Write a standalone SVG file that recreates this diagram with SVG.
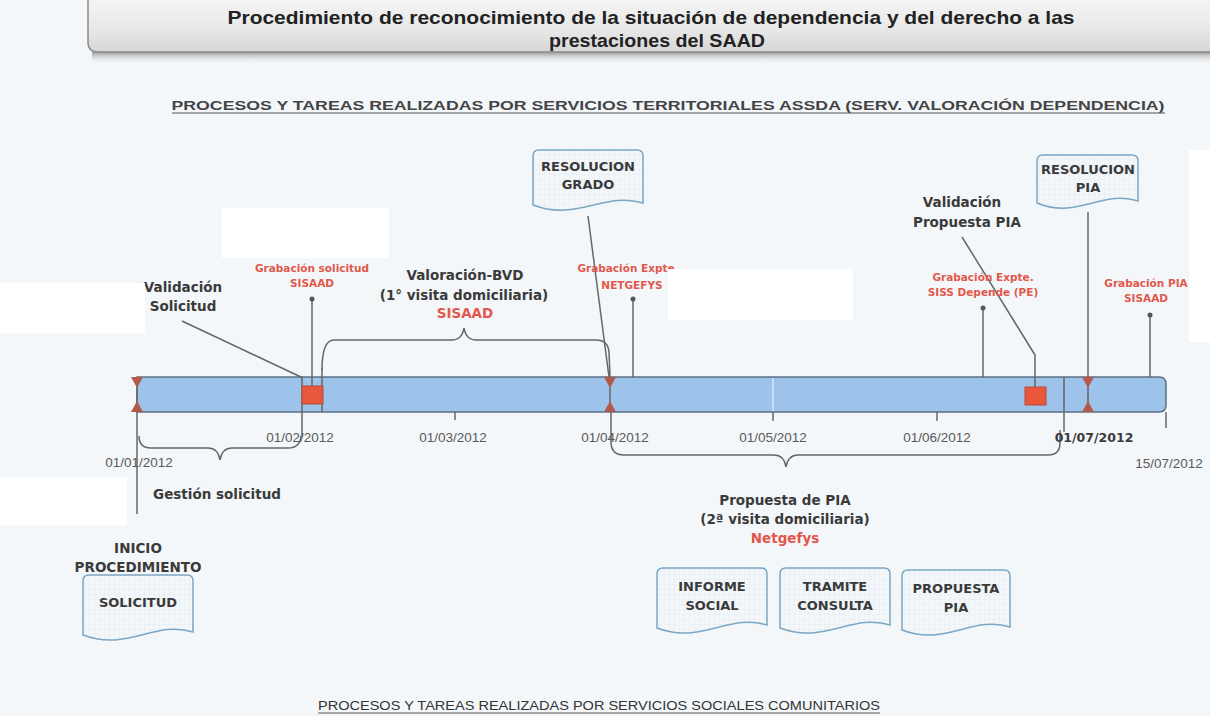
<svg xmlns="http://www.w3.org/2000/svg" width="1210" height="716" viewBox="0 0 1210 716">
<style>
.lbl{font-family:"DejaVu Sans",Verdana,sans-serif;font-weight:bold;font-size:13.5px;fill:#3a3a3a;text-anchor:middle}
.red{font-family:"DejaVu Sans",Verdana,sans-serif;font-weight:bold;font-size:10.5px;fill:#e2574c;text-anchor:middle}
.date{font-family:"Liberation Sans",Arial,sans-serif;font-size:13.5px;fill:#5a5a5a;text-anchor:middle}
.doct{font-family:"DejaVu Sans",Verdana,sans-serif;font-weight:bold;font-size:13px;fill:#3a3a3a;text-anchor:middle}
.doc{fill:url(#grid);stroke:#7ba6c4;stroke-width:1.5}
.ln{stroke:#666;stroke-width:1.5;fill:none}
.tri{fill:#b05a4c}
.sq{fill:#e8573c;stroke:#b54a3a;stroke-width:1}
.pin{fill:#555}
.wh{fill:#ffffff}
</style>
<defs>
<pattern id="grid" width="5" height="5" patternUnits="userSpaceOnUse">
<rect width="5" height="5" fill="#f3f7fa"/>
<path d="M5 0V5M0 5H5" stroke="#dce6ee" stroke-width="0.6"/>
</pattern>
<linearGradient id="tg" x1="0" y1="0" x2="0" y2="1">
<stop offset="0" stop-color="#f6f6f6"/>
<stop offset="0.6" stop-color="#e8e8e8"/>
<stop offset="1" stop-color="#d6d6d6"/>
</linearGradient>
<linearGradient id="sh" x1="0" y1="0" x2="0" y2="1">
<stop offset="0" stop-color="#9a9a9a"/>
<stop offset="1" stop-color="#f4f7f9" stop-opacity="0"/>
</linearGradient>
</defs>
<rect width="1210" height="716" fill="#f4f7f9"/>
<g id="title">
<rect x="92" y="52" width="1118" height="12" fill="url(#sh)"/>
<path d="M88,-5 L88,42 Q88,52 98,52 L1215,52 L1215,-5 Z" fill="url(#tg)" stroke="#8a8a8a" stroke-width="1.5"/>
<text x="651" y="24" font-family="Liberation Sans,Arial,sans-serif" font-weight="bold" font-size="19" fill="#222" text-anchor="middle" textLength="847" lengthAdjust="spacingAndGlyphs">Procedimiento de reconocimiento de la situación de dependencia y del derecho a las</text>
<text x="657" y="47" font-family="Liberation Sans,Arial,sans-serif" font-weight="bold" font-size="19" fill="#222" text-anchor="middle" textLength="216" lengthAdjust="spacingAndGlyphs">prestaciones del SAAD</text>
</g>
<g id="subtitle-top">
<text x="668" y="110" font-family="Liberation Sans,Arial,sans-serif" font-weight="bold" font-size="13" fill="#444" text-anchor="middle" textLength="993" lengthAdjust="spacingAndGlyphs">PROCESOS Y TAREAS REALIZADAS POR SERVICIOS TERRITORIALES ASSDA (SERV. VALORACIÓN DEPENDENCIA)</text>
<line x1="172" y1="113" x2="1165" y2="113" stroke="#555" stroke-width="1"/>
</g>
<g id="subtitle-bottom">
<text x="599" y="710" font-family="Liberation Sans,Arial,sans-serif" font-size="13" fill="#333" text-anchor="middle" textLength="562" lengthAdjust="spacingAndGlyphs">PROCESOS Y TAREAS REALIZADAS POR SERVICIOS SOCIALES COMUNITARIOS</text>
<line x1="318" y1="713" x2="880" y2="713" stroke="#555" stroke-width="1"/>
</g>
<g id="timeline">
<path d="M137,377 L1159,377 Q1166,377 1166,384 L1166,405 Q1166,412 1159,412 L137,412 Z" fill="#9ec3ea" stroke="#5b6f86" stroke-width="1.5"/>
<line x1="773" y1="378" x2="773" y2="411" stroke="#d4e4f4" stroke-width="1.5"/>
</g>
<g id="connectors">
<line class="ln" x1="455" y1="412" x2="455" y2="420"/>
<line class="ln" x1="773" y1="412" x2="773" y2="421"/>
<line class="ln" x1="937" y1="412" x2="937" y2="421"/>
<line class="ln" x1="1166" y1="412" x2="1166" y2="428"/>
<line class="ln" x1="137" y1="377" x2="137" y2="514"/>
<line class="ln" x1="302" y1="377" x2="302" y2="437"/>
<line class="ln" x1="322" y1="368" x2="322" y2="412"/>
<line class="ln" x1="610" y1="377" x2="610" y2="412"/>
<line class="ln" x1="1064" y1="377" x2="1064" y2="432"/>
<path class="ln" d="M139,436 Q139,448 151,448 L208,448 Q218,448 220,460 Q222,448 232,448 L288,448 Q300,448 301,436"/>
<path class="ln" d="M322,370 Q322,340 334,340 L452,340 Q462,340 464,328 Q466,340 476,340 L596,340 Q608,340 609,352 L610,377"/>
<path class="ln" d="M611,412 L611,442 Q611,455 624,455 L774,455 Q784,455 786,467 Q788,455 798,455 L1048,455 Q1060,455 1060,443 L1060,430"/>
<line class="ln" x1="182" y1="321" x2="303" y2="378"/>
<line class="ln" x1="312" y1="299" x2="312" y2="386"/>
<circle class="pin" cx="312" cy="299" r="2.5"/>
<line class="ln" x1="588" y1="216" x2="609" y2="377"/>
<line class="ln" x1="633" y1="299" x2="633" y2="377"/>
<circle class="pin" cx="633" cy="299" r="2.5"/>
<line class="ln" x1="983" y1="308" x2="983" y2="377"/>
<circle class="pin" cx="983" cy="308" r="2.5"/>
<path class="ln" d="M962,237 L1035,355 L1035,387"/>
<line class="ln" x1="1088" y1="212" x2="1088" y2="377"/>
<line class="ln" x1="1088" y1="377" x2="1088" y2="412"/>
<line class="ln" x1="1150" y1="315" x2="1150" y2="377"/>
<circle class="pin" cx="1150" cy="315" r="2.5"/>
</g>
<g id="markers">
<polygon class="tri" points="131,377 143,377 137,388"/>
<polygon class="tri" points="131,412 143,412 137,401"/>
<polygon class="tri" points="604,377 616,377 610,388"/>
<polygon class="tri" points="604,412 616,412 610,401"/>
<polygon class="tri" points="1082,377 1094,377 1088,388"/>
<polygon class="tri" points="1082,412 1094,412 1088,401"/>
<rect class="sq" x="302" y="386" width="21" height="18"/>
<rect class="sq" x="1025" y="387" width="21" height="18"/>
</g>
<g id="dates">
<text class="date" x="300" y="442">01/02/2012</text>
<text class="date" x="453" y="442">01/03/2012</text>
<text class="date" x="615" y="442">01/04/2012</text>
<text class="date" x="773" y="442">01/05/2012</text>
<text class="date" x="937" y="442">01/06/2012</text>
<text x="1094" y="442" font-family="DejaVu Sans,Verdana,sans-serif" font-weight="bold" font-size="12.5" fill="#3a3a3a" text-anchor="middle">01/07/2012</text>
<text class="date" x="1169" y="468">15/07/2012</text>
<text class="date" x="139" y="467">01/01/2012</text>
</g>
<g id="labels">
<text class="lbl" x="183" y="292">Validación</text>
<text class="lbl" x="183" y="311">Solicitud</text>
<text class="red" x="312" y="272">Grabación solicitud</text>
<text class="red" x="312" y="287">SISAAD</text>
<text class="lbl" x="465" y="280">Valoración-BVD</text>
<text class="lbl" x="464" y="300">(1° visita domiciliaria)</text>
<text x="465" y="318" font-family="DejaVu Sans,Verdana,sans-serif" font-weight="bold" font-size="13.5" fill="#e2574c" text-anchor="middle">SISAAD</text>
<text class="red" x="628" y="272">Grabación Expte.</text>
<text class="red" x="632" y="289">NETGEFYS</text>
<text class="lbl" x="962" y="207">Validación</text>
<text class="lbl" x="967" y="227">Propuesta PIA</text>
<text class="red" x="983" y="281">Grabación Expte.</text>
<text class="red" x="983" y="296">SISS Depende (PE)</text>
<text class="red" x="1146" y="287">Grabación PIA</text>
<text class="red" x="1146" y="302">SISAAD</text>
<text class="lbl" x="217" y="499">Gestión solicitud</text>
<text class="lbl" x="785" y="505">Propuesta de PIA</text>
<text class="lbl" x="785" y="524">(2ª visita domiciliaria)</text>
<text x="785" y="543" font-family="DejaVu Sans,Verdana,sans-serif" font-weight="bold" font-size="13.5" fill="#e2574c" text-anchor="middle">Netgefys</text>
<text class="lbl" x="138" y="553">INICIO</text>
<text class="lbl" x="138" y="572">PROCEDIMIENTO</text>
</g>
<g id="redactions">
<rect class="wh" x="222" y="208" width="167" height="50"/>
<rect class="wh" x="0" y="283" width="145" height="50"/>
<rect class="wh" x="668" y="269" width="185" height="51"/>
<rect class="wh" x="1189" y="150" width="21" height="192"/>
<rect class="wh" x="0" y="477" width="127" height="48"/>
</g>
<g id="doc-resolucion-grado">
<path class="doc" d="M533,156 Q533,150 539,150 L637,150 Q643,150 643,156 L643,203 C605,191 577,222 533,205 Z"/>
<text class="doct" x="588" y="171">RESOLUCION</text>
<text class="doct" x="588" y="189">GRADO</text>
</g>
<g id="doc-resolucion-pia">
<path class="doc" d="M1037,161 Q1037,155 1043,155 L1132,155 Q1138,155 1138,161 L1138,201 C1103,189 1077,220 1037,203 Z"/>
<text class="doct" x="1088" y="174">RESOLUCION</text>
<text class="doct" x="1088" y="192">PIA</text>
</g>
<g id="doc-solicitud">
<path class="doc" d="M83,581 Q83,575 89,575 L187,575 Q193,575 193,581 L193,632 C155,620 127,652 83,635 Z"/>
<text class="doct" x="138" y="607">SOLICITUD</text>
</g>
<g id="doc-informe-social">
<path class="doc" d="M657,574 Q657,568 663,568 L761,568 Q767,568 767,574 L767,625 C729,613 701,645 657,628 Z"/>
<text class="doct" x="712" y="591">INFORME</text>
<text class="doct" x="712" y="610">SOCIAL</text>
</g>
<g id="doc-tramite-consulta">
<path class="doc" d="M780,574 Q780,568 786,568 L884,568 Q890,568 890,574 L890,625 C852,613 824,645 780,628 Z"/>
<text class="doct" x="835" y="591">TRAMITE</text>
<text class="doct" x="835" y="610">CONSULTA</text>
</g>
<g id="doc-propuesta-pia">
<path class="doc" d="M902,576 Q902,570 908,570 L1004,570 Q1010,570 1010,576 L1010,627 C973,615 945,647 902,630 Z"/>
<text class="doct" x="956" y="593">PROPUESTA</text>
<text class="doct" x="956" y="612">PIA</text>
</g>
</svg>
